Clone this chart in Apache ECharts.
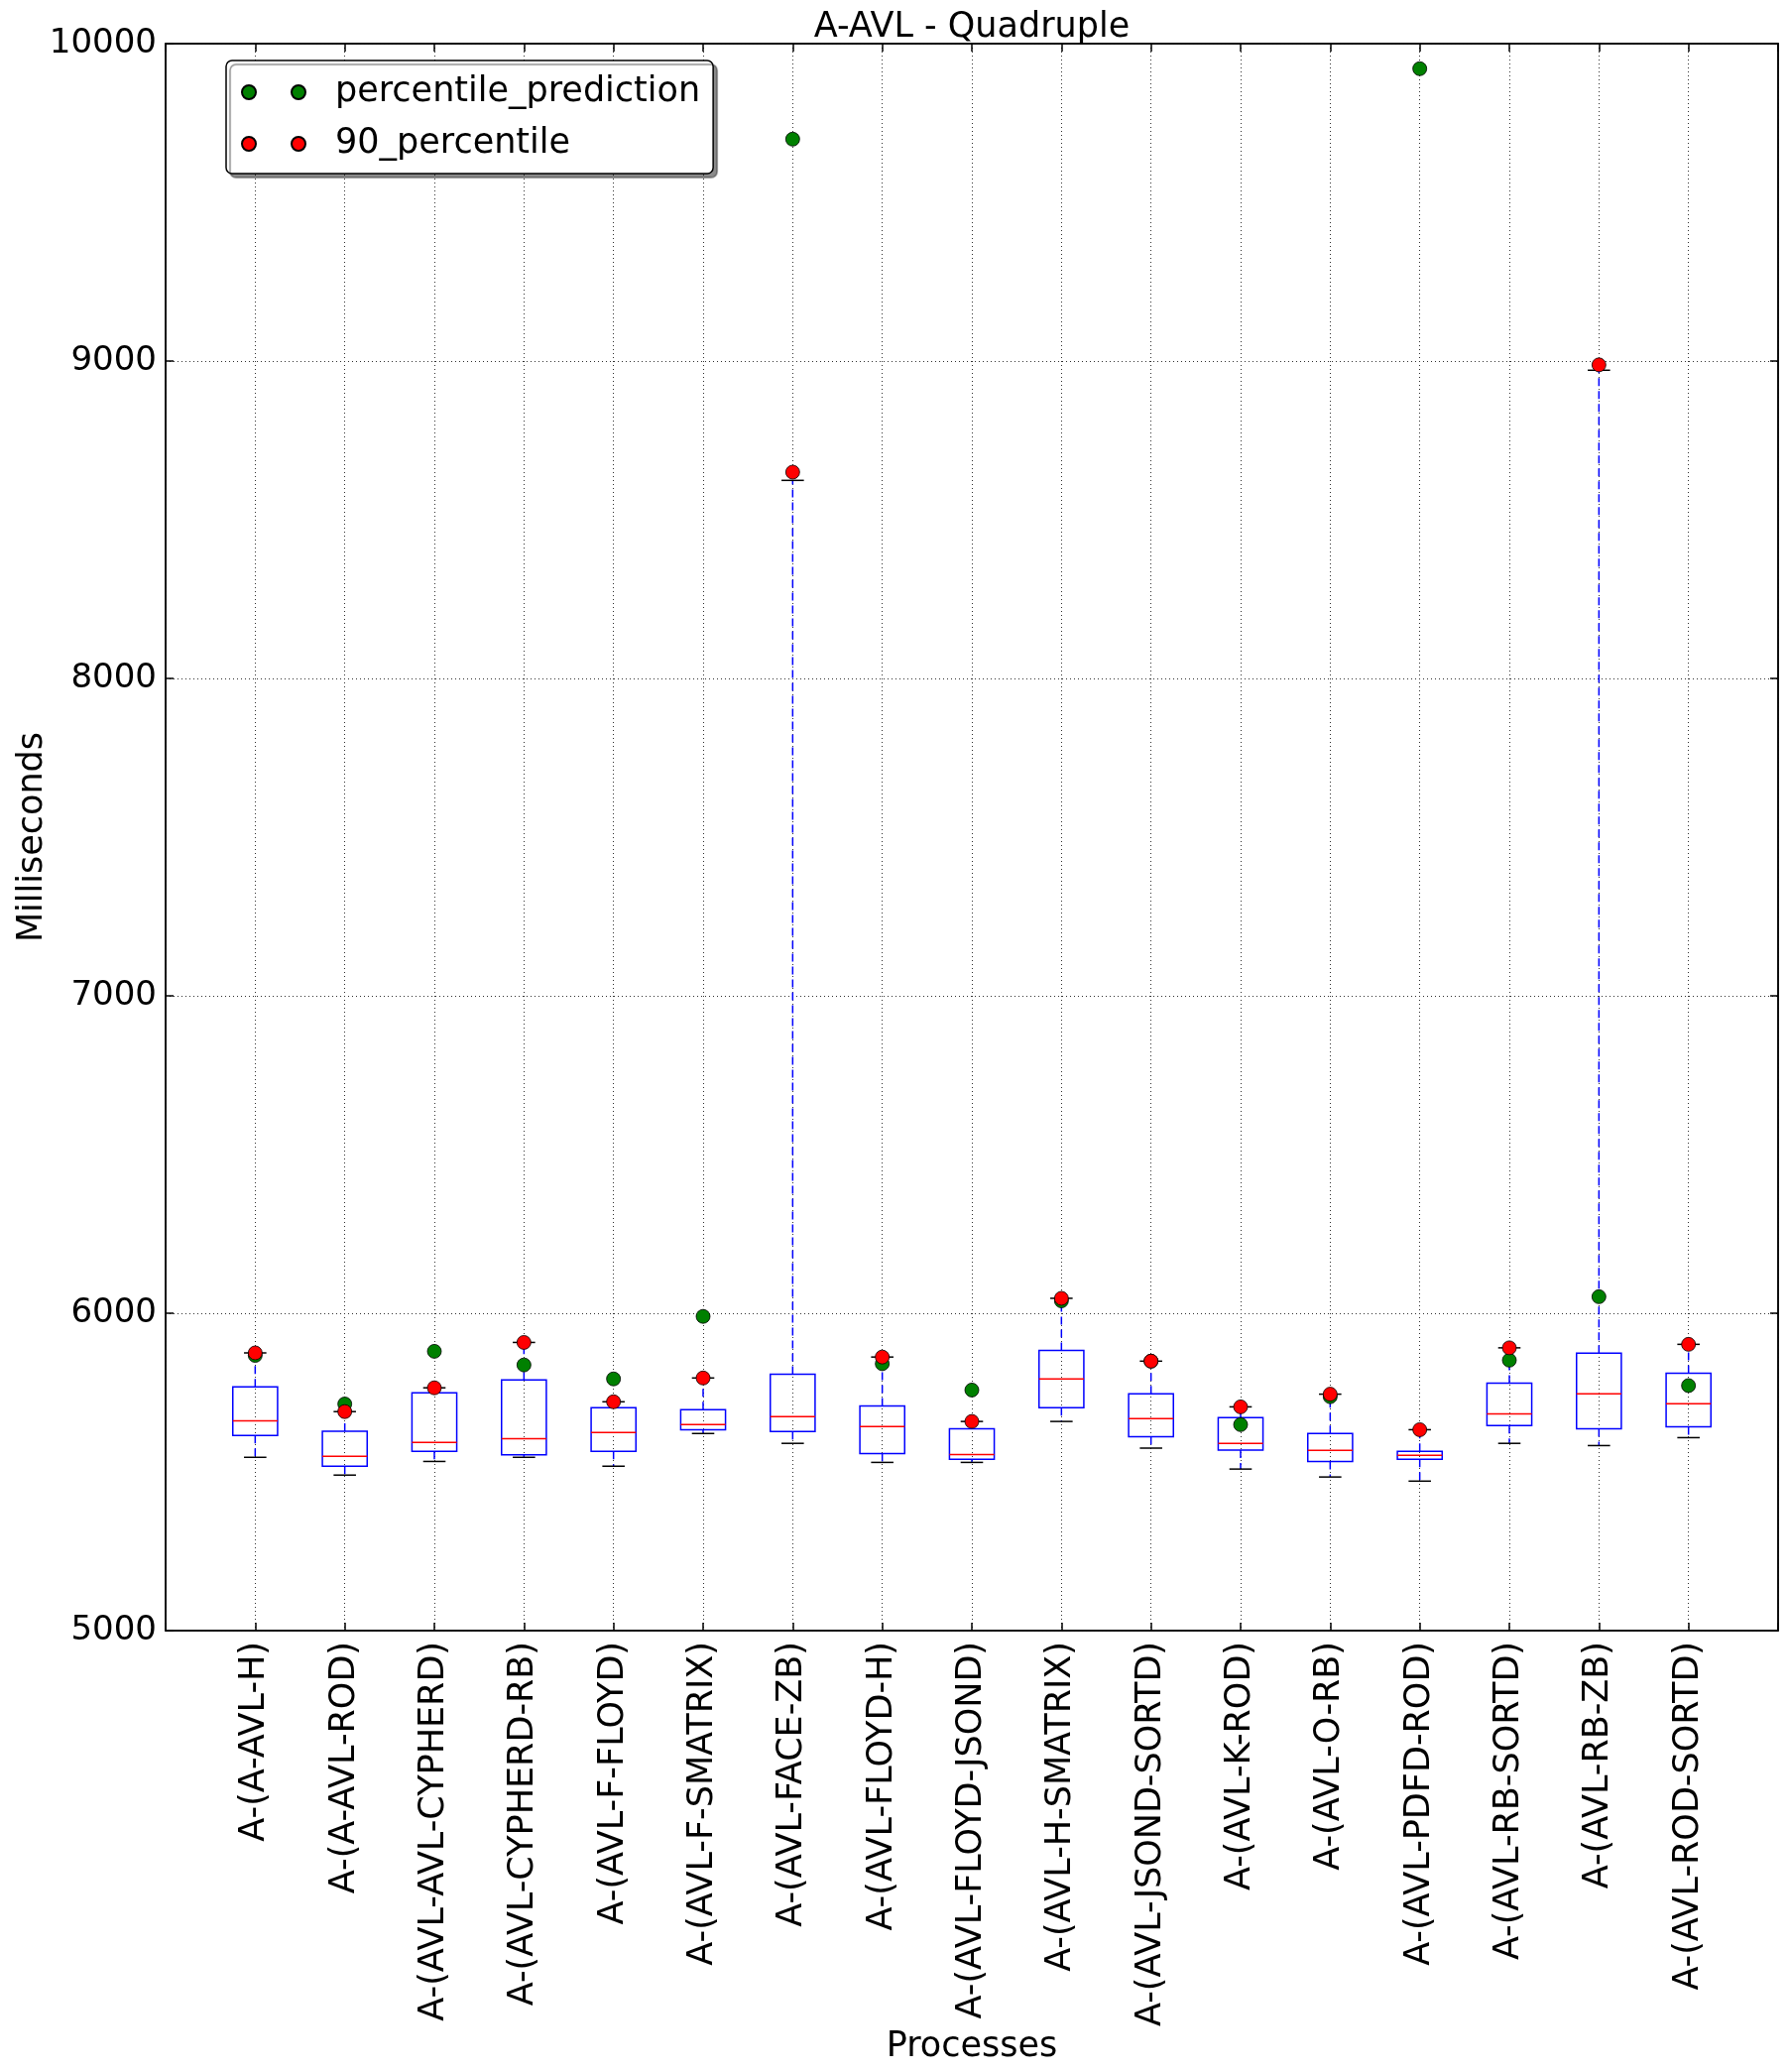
<!DOCTYPE html>
<html>
<head>
<meta charset="utf-8">
<script src="https://cdn.jsdelivr.net/npm/echarts@6/dist/echarts.min.js"></script>
<style>
html,body{margin:0;padding:0;background:#fff;}
#chart{width:1804px;height:2089px;}
</style>
</head>
<body>
<div id="chart"></div>
<script>
const categories = ['A-(A-AVL-H)','A-(A-AVL-ROD)','A-(AVL-AVL-CYPHERD)','A-(AVL-CYPHERD-RB)','A-(AVL-F-FLOYD)','A-(AVL-F-SMATRIX)','A-(AVL-FACE-ZB)','A-(AVL-FLOYD-H)','A-(AVL-FLOYD-JSOND)','A-(AVL-H-SMATRIX)','A-(AVL-JSOND-SORTD)','A-(AVL-K-ROD)','A-(AVL-O-RB)','A-(AVL-PDFD-ROD)','A-(AVL-RB-SORTD)','A-(AVL-RB-ZB)','A-(AVL-ROD-SORTD)'];
const whiskerLow  = [5546,5490,5533,5546,5518,5621,5590,5530,5530,5659,5575,5509,5484,5471,5590,5583,5608];
const q1          = [5615,5518,5565,5554,5565,5633,5627,5558,5540,5702,5611,5569,5533,5540,5646,5636,5642];
const median      = [5661,5549,5593,5605,5624,5649,5674,5643,5555,5793,5668,5590,5568,5552,5683,5746,5715];
const q3          = [5768,5628,5749,5790,5702,5696,5808,5708,5636,5883,5746,5671,5621,5565,5780,5874,5811];
const whiskerHigh = [5875,5690,5765,5908,5721,5796,8624,5862,5659,6047,5849,5705,5745,5633,5891,8971,5902];
const percentilePrediction = [5867,5714,5880,5837,5793,5990,9699,5841,5758,6039,5849,5649,5737,9921,5852,6052,5772];
const percentile90 = [5875,5690,5765,5908,5721,5796,8650,5862,5659,6047,5849,5705,5745,5633,5891,8988,5902];
const yTicks = {min: 5000, max: 10000, interval: 1000};

// axis has one empty slot on each side (matplotlib positions 0 and 18)
const axisCats = [''].concat(categories, ['']);
const boxData = categories.map((c, i) => [i + 1, whiskerLow[i], q1[i], median[i], q3[i], whiskerHigh[i]]);
const predData = categories.map((c, i) => [i + 1, percentilePrediction[i]]);
const p90Data = categories.map((c, i) => [i + 1, percentile90[i]]);

const FONT = 'DejaVu Sans';
const FS = 35;
const chart = echarts.init(document.getElementById('chart'), null, {renderer: 'canvas'});

function renderBox(params, api) {
  const x = api.value(0);
  const band = api.size([1, 0])[0];
  const hb = band * 0.25, hc = band * 0.125;
  const pL = api.coord([x, api.value(1)]);
  const p1 = api.coord([x, api.value(2)]);
  const pm = api.coord([x, api.value(3)]);
  const p3 = api.coord([x, api.value(4)]);
  const pH = api.coord([x, api.value(5)]);
  const cx = pm[0];
  const blue = '#0000ff';
  return {
    type: 'group',
    children: [
      {type: 'line', shape: {x1: cx, y1: p3[1], x2: cx, y2: pH[1]}, style: {stroke: blue, lineWidth: 1.5, lineDash: [8, 5]}},
      {type: 'line', shape: {x1: cx, y1: p1[1], x2: cx, y2: pL[1]}, style: {stroke: blue, lineWidth: 1.5, lineDash: [8, 5]}},
      {type: 'line', shape: {x1: cx - hc, y1: pH[1], x2: cx + hc, y2: pH[1]}, style: {stroke: '#000', lineWidth: 1.5}},
      {type: 'line', shape: {x1: cx - hc, y1: pL[1], x2: cx + hc, y2: pL[1]}, style: {stroke: '#000', lineWidth: 1.5}},
      {type: 'rect', shape: {x: cx - hb, y: p3[1], width: 2 * hb, height: p1[1] - p3[1]}, style: {fill: 'none', stroke: blue, lineWidth: 1.5}},
      {type: 'line', shape: {x1: cx - hb, y1: pm[1], x2: cx + hb, y2: pm[1]}, style: {stroke: '#ff0000', lineWidth: 1.5}}
    ]
  };
}

const twoDots = 'path://M0,7A7,7 0 1,0 14,7A7,7 0 1,0 0,7ZM50,7A7,7 0 1,0 64,7A7,7 0 1,0 50,7Z';

const gridLine = {show: true, interval: 0, lineStyle: {color: '#333', width: 1, type: [1, 3]}};

const option = {
  backgroundColor: '#fff',
  animation: false,
  textStyle: {fontFamily: FONT},
  title: {
    text: 'A-AVL - Quadruple',
    left: 980, top: 10, padding: 0, textAlign: 'center',
    textStyle: {fontFamily: FONT, fontSize: FS, fontWeight: 'normal', color: '#000'}
  },
  legend: {
    left: 228, top: 61, orient: 'vertical',
    padding: [12, 13, 10, 15], itemGap: 12,
    itemWidth: 64, itemHeight: 14,
    backgroundColor: '#fff', borderColor: '#000', borderWidth: 1.5, borderRadius: 6,
    shadowColor: 'rgba(0,0,0,0.45)', shadowBlur: 1, shadowOffsetX: 4, shadowOffsetY: 4,
    textStyle: {fontFamily: FONT, fontSize: FS, color: '#000', lineHeight: 40, padding: [0, 0, 0, 25]},
    data: [
      {name: 'percentile_prediction', icon: twoDots},
      {name: '90_percentile', icon: twoDots}
    ]
  },
  grid: {left: 167, right: 11, top: 44, bottom: 445, containLabel: false, outerBoundsMode: 'none',
    show: true, borderColor: '#000', borderWidth: 1.5, backgroundColor: 'transparent'},
  xAxis: [{
    type: 'category', data: axisCats, boundaryGap: false,
    name: 'Processes', nameLocation: 'middle', nameGap: 402, nameMoveOverlap: false,
    nameTextStyle: {fontFamily: FONT, fontSize: FS, color: '#000'},
    axisLine: {show: true, lineStyle: {color: '#000', width: 1.5}},
    axisTick: {show: true, inside: true, length: 8, interval: 0, lineStyle: {color: '#000', width: 1.5}},
    axisLabel: {interval: 0, rotate: 90, margin: 11, fontFamily: FONT, fontSize: FS, color: '#000'},
    splitLine: gridLine
  }, {
    type: 'category', data: axisCats, boundaryGap: false, position: 'top',
    axisLine: {show: true, lineStyle: {color: '#000', width: 1.5}},
    axisTick: {show: true, inside: true, length: 8, interval: 0, lineStyle: {color: '#000', width: 1.5}},
    axisLabel: {show: false}, splitLine: {show: false}
  }],
  yAxis: [{
    type: 'value', min: yTicks.min, max: yTicks.max, interval: yTicks.interval,
    name: 'Milliseconds', nameLocation: 'middle', nameGap: 117, nameMoveOverlap: false,
    nameTextStyle: {fontFamily: FONT, fontSize: FS, color: '#000'},
    axisLine: {show: true, lineStyle: {color: '#000', width: 1.5}},
    axisTick: {show: true, inside: true, length: 8, lineStyle: {color: '#000', width: 1.5}},
    axisLabel: {margin: 9, fontFamily: FONT, fontSize: 34, color: '#000', formatter: v => String(v)},
    splitLine: gridLine
  }, {
    type: 'value', min: yTicks.min, max: yTicks.max, interval: yTicks.interval, position: 'right',
    axisLine: {show: true, lineStyle: {color: '#000', width: 1.5}},
    axisTick: {show: true, inside: true, length: 8, lineStyle: {color: '#000', width: 1.5}},
    axisLabel: {show: false}, splitLine: {show: false}
  }],
  series: [
    {type: 'custom', name: 'box', renderItem: renderBox, data: boxData, encode: {x: 0, y: [1, 2, 3, 4, 5]}, z: 2, silent: true},
    {type: 'scatter', name: 'percentile_prediction', data: predData, symbol: 'circle', symbolSize: 14,
      itemStyle: {color: '#008000', borderColor: '#000', borderWidth: 0.8, opacity: 1}, z: 3},
    {type: 'scatter', name: '90_percentile', data: p90Data, symbol: 'circle', symbolSize: 14,
      itemStyle: {color: '#ff0000', borderColor: '#000', borderWidth: 0.8, opacity: 1}, z: 4}
  ]
};
chart.setOption(option);
</script>
</body>
</html>
